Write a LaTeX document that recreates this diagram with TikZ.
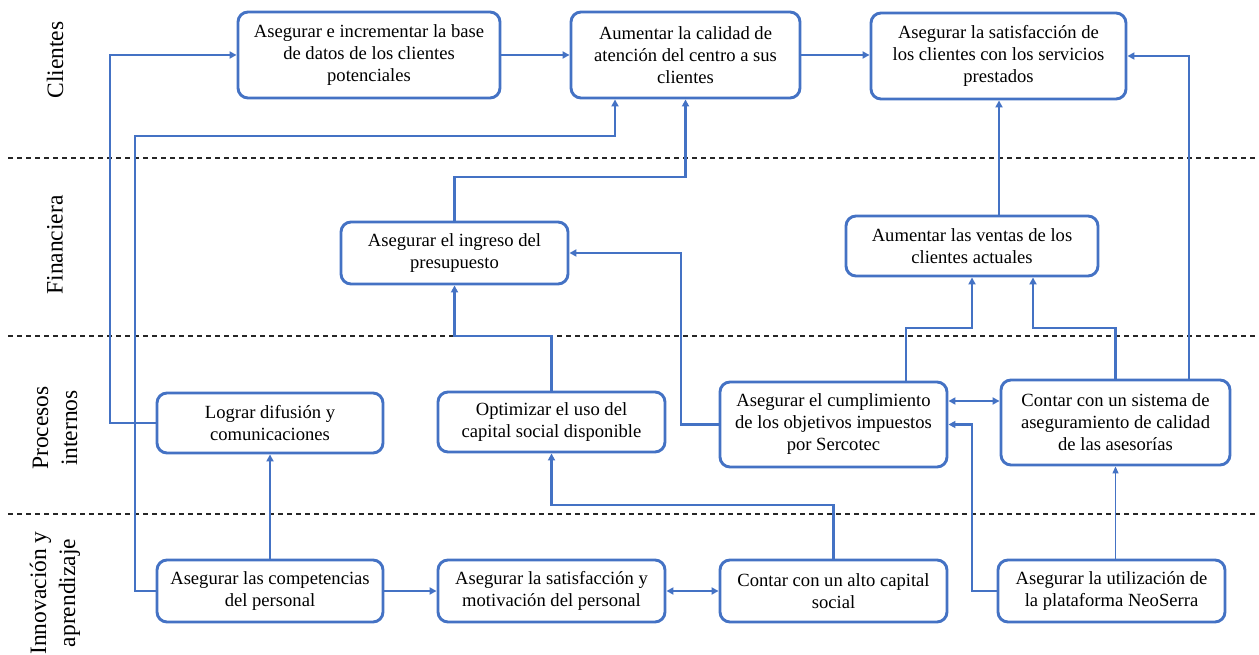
\documentclass[tikz,border=0pt]{standalone}
\usepackage{fontspec}
\setmainfont{Liberation Serif}
\usetikzlibrary{arrows.meta}
\definecolor{wblue}{RGB}{68,114,196}
\begin{document}
\begin{tikzpicture}[x=1pt,y=-1pt,
  box/.style={draw=wblue,line width=2.9pt,rounded corners=10pt,fill=white,align=center,
    font=\fontsize{18.6}{22}\selectfont,inner sep=0pt},
  arr/.style={draw=wblue,line width=2.8pt,-{Triangle[length=7pt,width=7pt]}},
  arrb/.style={draw=wblue,line width=2.8pt,{Triangle[length=7pt,width=7pt]}-{Triangle[length=7pt,width=7pt]}},
  tarr/.style={draw=wblue,line width=1.3pt,-{Triangle[length=7pt,width=6pt]}},
  sep/.style={draw=black!85,line width=1.1pt,dash pattern=on 5pt off 4pt},
  lab/.style={rotate=90,align=center,font=\fontsize{23.5}{29}\selectfont}]
\useasboundingbox (0,0) rectangle (1259,655);
% separators
\draw[sep] (8,158) -- (1259,158);
\draw[sep] (8,336) -- (1259,336);
\draw[sep] (8,514) -- (1259,514);
% perspective labels
\node[lab] (l1) at (55,60) {Clientes};
\node[lab] (l2) at (55,245) {Financiera};
\node[lab] (l3) at (55,428) {Procesos\\internos};
\node[lab] (l4) at (55,593) {Innovación y\\aprendizaje};
% boxes
\node[box,minimum width=262pt,minimum height=86pt] (A) at (369,55) {Asegurar e incrementar la base\\de datos de los clientes\\potenciales};
\node[box,minimum width=229pt,minimum height=86pt] (B) at (685.5,55) {Aumentar la calidad de\\atención del centro a sus\\clientes};
\node[box,minimum width=255pt,minimum height=86pt] (C) at (998.5,56) {Asegurar la satisfacción de\\los clientes con los servicios\\prestados};
\node[box,minimum width=227pt,minimum height=62pt] (ing) at (454.5,253) {Asegurar el ingreso del\\presupuesto};
\node[box,minimum width=252pt,minimum height=60pt] (ven) at (972,246) {Aumentar las ventas de los\\clientes actuales};
\node[box,minimum width=226pt,minimum height=60pt] (log) at (270,423) {Lograr difusión y\\comunicaciones};
\node[box,minimum width=227pt,minimum height=60pt] (opt) at (551.5,422) {Optimizar el uso del\\capital social disponible};
\node[box,minimum width=227pt,minimum height=85pt] (cum) at (833.5,424.5) {Asegurar el cumplimiento\\de los objetivos impuestos\\por Sercotec};
\node[box,minimum width=229pt,minimum height=85pt] (sis) at (1115.5,422.5) {Contar con un sistema de\\aseguramiento de calidad\\de las asesorías};
\node[box,minimum width=226pt,minimum height=62pt] (com) at (270,591) {Asegurar las competencias\\del personal};
\node[box,minimum width=227pt,minimum height=62pt] (mot) at (551.5,591) {Asegurar la satisfacción y\\motivación del personal};
\node[box,minimum width=227pt,minimum height=62pt] (alt) at (833.5,591) {Contar con un alto capital\\social};
\node[box,minimum width=227pt,minimum height=62pt] (neo) at (1111.5,591) {Asegurar la utilización de\\la plataforma NeoSerra};
% routing coordinates
\coordinate (x110) at (110,0);
\coordinate (p1) at (135,136);
\coordinate (p2) at (615,136);
\coordinate (y177) at (0,177);
\coordinate (x1189) at (1189,0);
\coordinate (x906) at (906,0);
\coordinate (q2) at (972,328);
\coordinate (q3) at (1033,328);
\coordinate (x681) at (681,0);
\coordinate (y336) at (0,336);
\coordinate (y505) at (0,505);
\coordinate (y401) at (0,401);
\coordinate (x972) at (972,0);
\coordinate (x999) at (999,0);
% connectors
\draw[arr] (log.west) -- (log.west -| x110) |- (A.west);
\draw[arr] (com.west) -| (p1) -- (p2) -- (B.south -| p2);
\draw[arr] (ing.north) -- (ing.north |- y177) -| (B.south);
\draw[arr] (A.east) -- (B.west);
\draw[arr] (B.east) -- (B.east -| C.west);
\draw[arr] (ven.north -| x999) -- (C.south -| x999);
\draw[arr] (sis.north -| x1189) |- (C.east);
\draw[arr] (cum.north -| x906) |- (q2) -- (ven.south);
\draw[arr] (sis.north) |- (q3) -- (ven.south -| q3);
\draw[arr] (cum.west) -- (cum.west -| x681) |- (ing.east);
\draw[arr] (opt.north) -- (opt.north |- y336) -| (ing.south);
\draw[arr] (alt.north) -- (alt.north |- y505) -| (opt.south);
\draw[arr] (com.north) -- (log.south);
\draw[arr] (com.east) -- (mot.west);
\draw[arrb] (mot.east) -- (alt.west);
\draw[arrb] (cum.east |- y401) -- (sis.west |- y401);
\draw[arr] (neo.west) -- (neo.west -| x972) |- (cum.east);
\draw[tarr] (sis.south |- neo.north) -- (sis.south);
\end{tikzpicture}
\end{document}
